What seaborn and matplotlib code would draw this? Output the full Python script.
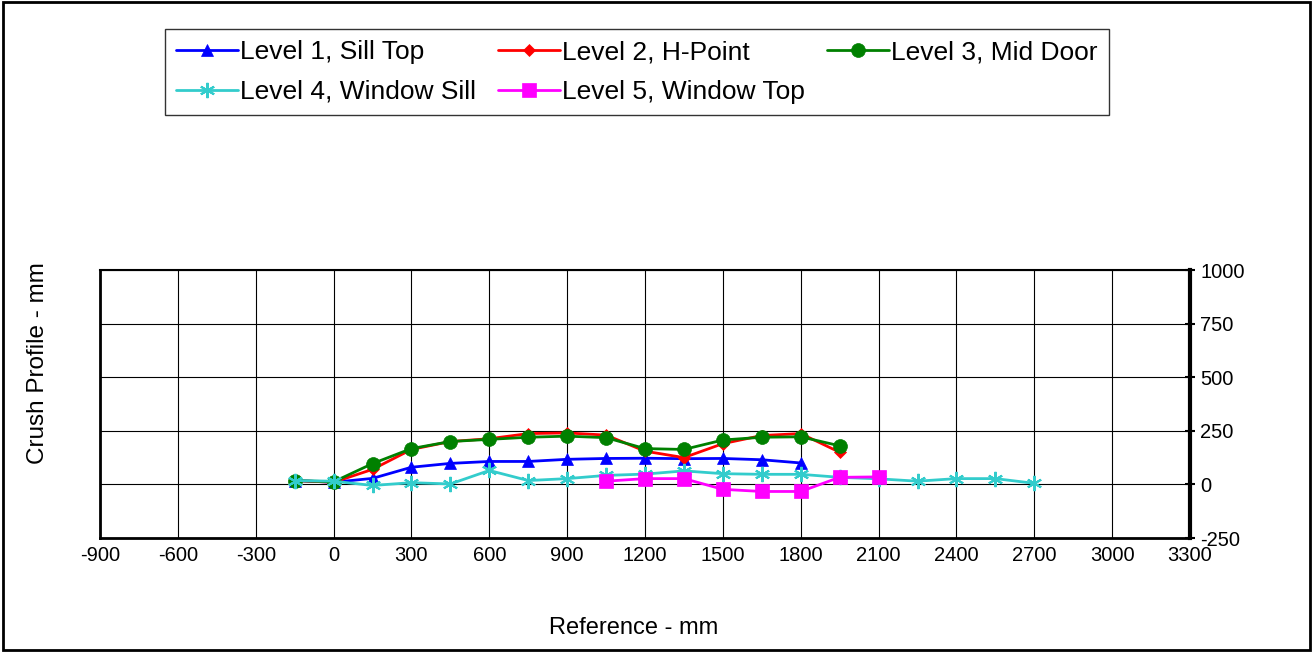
import numpy as np
import matplotlib
matplotlib.use("Agg")
import matplotlib.pyplot as plt
import pandas as pd
import seaborn as sns
from matplotlib.patches import Rectangle

# values
x1 = [-150, 0, 150, 300, 450, 600, 750, 900, 1050, 1200, 1350, 1500, 1650, 1800]
level1 = [18, 10, 28, 80, 98, 107, 107, 117, 121, 122, 120, 121, 115, 100]

x2 = [-150, 0, 150, 300, 450, 600, 750, 900, 1050, 1200, 1350, 1500, 1650, 1800, 1950]
level2 = [18, 10, 70, 163, 200, 213, 237, 240, 230, 155, 125, 190, 228, 237, 150]
level3 = [18, 12, 97, 167, 200, 210, 220, 225, 218, 167, 163, 207, 220, 222, 180]

x4 = [-150, 0, 150, 300, 450, 600, 750, 900, 1050, 1200, 1350, 1500, 1650, 1800,
      1950, 2100, 2250, 2400, 2550, 2700]
level4 = [18, 15, -5, 8, 2, 65, 18, 27, 42, 48, 63, 50, 47, 47, 33, 26, 15, 27, 27, 5]

x5 = [1050, 1200, 1350, 1500, 1650, 1800, 1950, 2100]
level5 = [15, 27, 27, -23, -33, -33, 33, 35]

xticks = list(range(-900, 3301, 300))
yticks = [-250, 0, 250, 500, 750, 1000]

sns.set_theme(style="white")
plt.rcParams['font.family'] = ['Liberation Sans', 'DejaVu Sans']
plt.rcParams['axes.unicode_minus'] = False
plt.rcParams['text.color'] = 'black'

fig = plt.figure(figsize=(13.13, 6.52), dpi=100)
ax = fig.add_axes([100/1313, 1-538/652, 1090/1313, 268/652])

series = [
    (x1, level1, "Level 1, Sill Top", "blue", "^", 9),
    (x2, level2, "Level 2, H-Point", "red", "D", 6),
    (x2, level3, "Level 3, Mid Door", "green", "o", 10),
    (x4, level4, "Level 4, Window Sill", "#33CCCC", (6, 2, 0), 11),
    (x5, level5, "Level 5, Window Top", "magenta", "s", 10),
]
for xs, ys, name, col, mk, ms in series:
    df = pd.DataFrame({"x": xs, "y": ys})
    sns.lineplot(data=df, x="x", y="y", ax=ax, label=name, color=col,
                 marker=mk, markersize=ms, markeredgecolor=col,
                 markeredgewidth=1.5 if mk == (6, 2, 0) else 0.5,
                 linewidth=2)

ax.set_xlim(-900, 3300)
ax.set_ylim(-250, 1000)
ax.set_xticks(xticks)
ax.set_yticks(yticks)
ax.grid(True, color="black", linewidth=0.8)
ax.yaxis.tick_right()
ax.tick_params(axis="both", labelsize=14.5, colors="black", width=1.5)
ax.tick_params(axis="y", direction="inout", length=7, pad=4)
ax.tick_params(axis="x", length=0, pad=6)
for s in ax.spines.values():
    s.set_color("black")
    s.set_linewidth(1.5)
ax.spines["right"].set_linewidth(3)
ax.spines["bottom"].set_linewidth(2)
ax.spines["left"].set_linewidth(2)
ax.set_xlabel("")
ax.set_ylabel("")

fig.text(38/1313, 1-363/652, "Crush Profile - mm", rotation=90, fontsize=17.5,
         ha="center", va="center", color="black")
fig.text(634/1313, 1-628/652, "Reference - mm", fontsize=17,
         ha="center", va="center", color="black")

handles, labels = ax.get_legend_handles_labels()
ax.get_legend().remove()
order = [0, 3, 1, 4, 2]
leg = fig.legend([handles[i] for i in order], [labels[i] for i in order],
                 loc="upper left", ncol=3,
                 bbox_to_anchor=(165/1313, 1-29/652), fontsize=19,
                 frameon=True, fancybox=False, edgecolor="black",
                 handlelength=2.35, handletextpad=0.08, columnspacing=0.83,
                 borderpad=0.42, labelspacing=0.6, borderaxespad=0,
                 labelcolor="black")
leg.get_frame().set_linewidth(1)

fig.patches.append(Rectangle((0.002, 0.003), 0.996, 0.994, transform=fig.transFigure,
                             fill=False, edgecolor="black", linewidth=2))

fig.savefig("out.png", dpi=100)
